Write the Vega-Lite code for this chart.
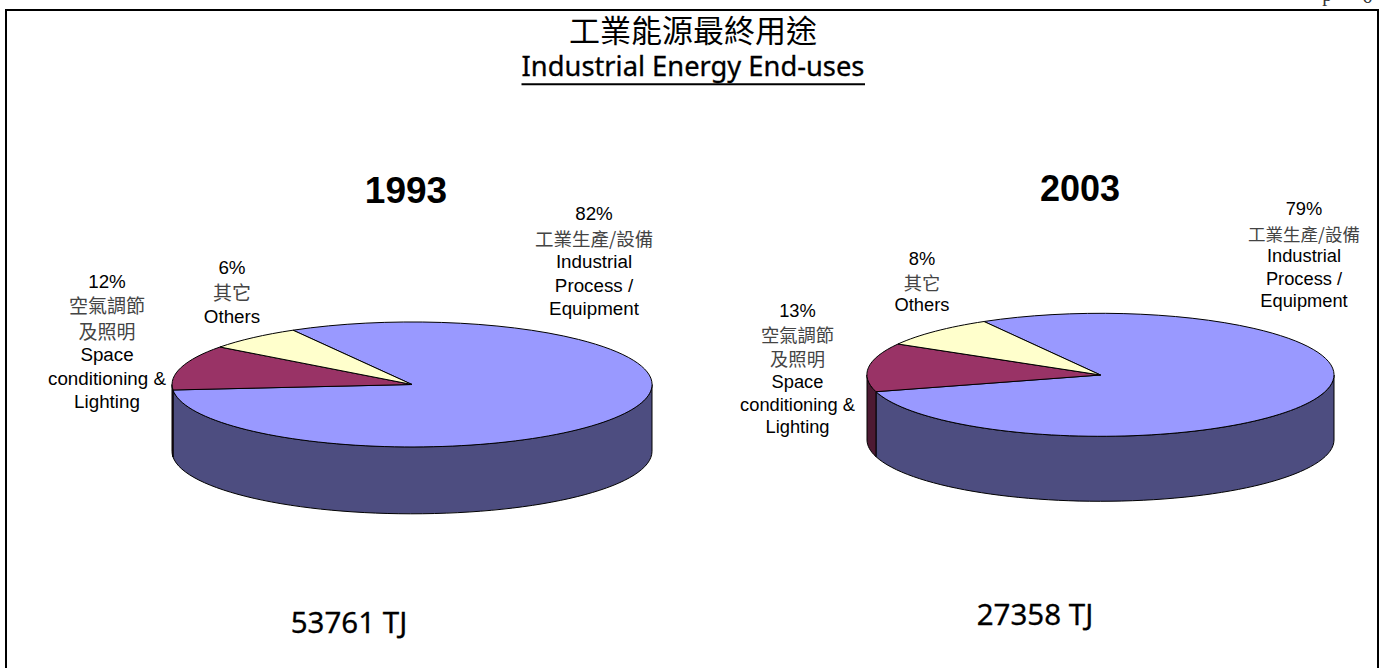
{"$schema":"https://vega.github.io/schema/vega-lite/v6.json","width":1385,"height":668,"padding":0,"autosize":{"type":"none"},"background":"white","config":{"view":{"stroke":null}},
"data":{"values":[
{"id":"1993-Industrial","year":"1993","category":"Industrial","share":82,"pct":"82%","en":"Industrial\nProcess /\nEquipment","zh":"工業生產/設備"},
{"id":"1993-Space","year":"1993","category":"Space","share":12,"pct":"12%","en":"Space\nconditioning &\nLighting","zh":"空氣調節\n及照明"},
{"id":"1993-Others","year":"1993","category":"Others","share":6,"pct":"6%","en":"Others","zh":"其它"},
{"id":"2003-Industrial","year":"2003","category":"Industrial","share":79,"pct":"79%","en":"Industrial\nProcess /\nEquipment","zh":"工業生產/設備"},
{"id":"2003-Space","year":"2003","category":"Space","share":13,"pct":"13%","en":"Space\nconditioning &\nLighting","zh":"空氣調節\n及照明"},
{"id":"2003-Others","year":"2003","category":"Others","share":8,"pct":"8%","en":"Others","zh":"其它"},
{"id":"1993-head","year":"1993","en":"1993"},
{"id":"2003-head","year":"2003","en":"2003"},
{"id":"1993-total","year":"1993","total":53761,"en":"53761 TJ"},
{"id":"2003-total","year":"2003","total":27358,"en":"27358 TJ"},
{"id":"title","year":"all","en":"Industrial Energy End-uses","zh":"工業能源最終用途"},
{"id":"page-a","year":"all","en":"p"},
{"id":"page-b","year":"all","en":"6"}
]},
"encoding":{
"x":{"field":"year","type":"nominal","axis":null,"scale":{"type":"point","domain":["1993","all","2003"],"range":[412,1100.5],"padding":0,"round":false}},
"y":{"field":"year","type":"nominal","axis":null,"scale":{"type":"point","domain":["1993","all","2003"],"range":[384.5,375],"padding":0,"round":false}}
},
"resolve":{"scale":{"shape":"independent","color":"independent"}},
"layer":[
{"transform":[{"filter":"datum.id==='1993-Industrial'||datum.id==='1993-Space'||datum.id==='2003-Industrial'||datum.id==='2003-Space'"}],
"mark":{"type":"point","filled":true,"size":4,"opacity":1,"stroke":"black","strokeWidth":1},
"encoding":{"shape":{"field":"id","type":"nominal","legend":null,"scale":{"domain":["1993-Industrial","1993-Space","2003-Industrial","2003-Space"],"range":[
"M-239,5.5A240,62.5 0 0 0 240,0V67A240,62.5 0 0 1 -239,72.5Z",
"M-240,0A240,62.5 0 0 0 -239,5.5V72.5A240,62.5 0 0 1 -240,67Z",
"M-224.5,16.7A233.5,61.5 0 0 0 233.5,0V65A233.5,61.5 0 0 1 -224.5,81.7Z",
"M-233.5,0A233.5,61.5 0 0 0 -224.5,16.7V81.7A233.5,61.5 0 0 1 -233.5,65Z"]}},
"color":{"field":"category","type":"nominal","legend":null,"scale":{"domain":["Industrial","Space"],"range":["#4D4D80","#4D1A33"]}}}},
{"transform":[{"filter":"isValid(datum.category)"}],
"mark":{"type":"point","filled":true,"size":4,"opacity":1,"stroke":"black","strokeWidth":1},
"encoding":{"shape":{"field":"id","type":"nominal","legend":null,"scale":{"domain":["1993-Industrial","1993-Space","1993-Others","2003-Industrial","2003-Space","2003-Others"],"range":[
"M0,0L-119,-54.3A240,62.5 0 1 1 -239,5.5Z",
"M0,0L-239,5.5A240,62.5 0 0 1 -192,-37.5Z",
"M0,0L-192,-37.5A240,62.5 0 0 1 -119,-54.3Z",
"M0,0L-116.5,-53.5A233.5,61.5 0 1 1 -224.5,16.7Z",
"M0,0L-224.5,16.7A233.5,61.5 0 0 1 -202.5,-31Z",
"M0,0L-202.5,-31A233.5,61.5 0 0 1 -116.5,-53.5Z"]}},
"color":{"field":"category","type":"nominal","legend":null,"scale":{"domain":["Industrial","Space","Others"],"range":["#9999FF","#993366","#FFFFCC"]}}}},
{"transform":[{"filter":"datum.id==='title'"}],"mark":{"type":"point","filled":false,"size":4,"opacity":1,"fill":null,"stroke":"black","strokeWidth":2,"shape":"M-750.25,320.25V-369.75H621.75V320.25"}},
{"transform":[{"filter":"datum.id==='title'"}],"mark":{"type":"point","filled":false,"size":4,"opacity":1,"fill":null,"stroke":"black","strokeWidth":2,"shape":"M-234.75,-295.45H108.75"}},
{"transform":[{"filter":"datum.id==='title'"}],"mark":{"type":"text","font":"Noto Sans CJK TC","fontSize":31,"align":"center","baseline":"alphabetic","dx":-63.25,"dy":-338,"color":"black"},"encoding":{"text":{"field":"zh"}}},
{"transform":[{"filter":"datum.id==='title'"}],"mark":{"type":"text","font":"Noto Sans","fontSize":27.3,"align":"center","baseline":"alphabetic","dx":-63.25,"dy":-303.75,"color":"black","stroke":"black","strokeWidth":0.3},"encoding":{"text":{"field":"en"}}},
{"transform":[{"filter":"datum.id==='page-a'"}],"mark":{"type":"text","font":"Liberation Serif","fontSize":20,"align":"center","baseline":"alphabetic","dx":571,"dy":-379,"color":"#333"},"encoding":{"text":{"field":"en"}}},
{"transform":[{"filter":"datum.id==='page-b'"}],"mark":{"type":"text","font":"Liberation Serif","fontSize":20,"align":"center","baseline":"alphabetic","dx":611,"dy":-377,"color":"#333"},"encoding":{"text":{"field":"en"}}},
{"transform":[{"filter":"datum.id==='1993-head'"}],"mark":{"type":"text","font":"Liberation Sans","fontWeight":"bold","fontSize":37,"align":"center","baseline":"alphabetic","dx":-6,"dy":-181.5,"color":"black"},"encoding":{"text":{"field":"en"}}},
{"transform":[{"filter":"datum.id==='2003-head'"}],"mark":{"type":"text","font":"Liberation Sans","fontWeight":"bold","fontSize":36,"align":"center","baseline":"alphabetic","dx":-20.5,"dy":-174,"color":"black"},"encoding":{"text":{"field":"en"}}},
{"transform":[{"filter":"datum.id==='1993-total'"}],"mark":{"type":"text","font":"Noto Sans","fontSize":29.5,"align":"center","baseline":"alphabetic","dx":-63,"dy":248.5,"color":"black","stroke":"black","strokeWidth":0.3},"encoding":{"text":{"field":"en"}}},
{"transform":[{"filter":"datum.id==='2003-total'"}],"mark":{"type":"text","font":"Noto Sans","fontSize":29.5,"align":"center","baseline":"alphabetic","dx":-65.5,"dy":250,"color":"black","stroke":"black","strokeWidth":0.3},"encoding":{"text":{"field":"en"}}},

{"transform":[{"filter":"datum.id==='1993-Industrial'"}],"mark":{"type":"text","font":"Liberation Sans","fontSize":18.8,"align":"center","baseline":"alphabetic","dx":182,"dy":-164.5,"color":"black"},"encoding":{"text":{"field":"pct"}}},
{"transform":[{"filter":"datum.id==='1993-Industrial'"}],"mark":{"type":"text","font":"Liberation Sans","fontSize":18.8,"align":"center","baseline":"alphabetic","lineBreak":"\n","lineHeight":23.5,"dx":182,"dy":-116.5,"color":"black"},"encoding":{"text":{"field":"en"}}},
{"transform":[{"filter":"datum.id==='1993-Industrial'"}],"mark":{"type":"text","font":"Noto Sans CJK TC","fontSize":18.5,"align":"center","baseline":"alphabetic","lineBreak":"\n","dx":182,"dy":-139,"color":"#444"},"encoding":{"text":{"field":"zh"}}},

{"transform":[{"filter":"datum.id==='1993-Space'"}],"mark":{"type":"text","font":"Liberation Sans","fontSize":18.8,"align":"center","baseline":"alphabetic","dx":-305,"dy":-96.5,"color":"black"},"encoding":{"text":{"field":"pct"}}},
{"transform":[{"filter":"datum.id==='1993-Space'"}],"mark":{"type":"text","font":"Liberation Sans","fontSize":18.8,"align":"center","baseline":"alphabetic","lineBreak":"\n","lineHeight":23.5,"dx":-305,"dy":-23.5,"color":"black"},"encoding":{"text":{"field":"en"}}},
{"transform":[{"filter":"datum.id==='1993-Space'"}],"mark":{"type":"text","font":"Noto Sans CJK TC","fontSize":19,"align":"center","baseline":"alphabetic","lineBreak":"\n","lineHeight":26,"dx":-305,"dy":-71.5,"color":"#444"},"encoding":{"text":{"field":"zh"}}},

{"transform":[{"filter":"datum.id==='1993-Others'"}],"mark":{"type":"text","font":"Liberation Sans","fontSize":18.8,"align":"center","baseline":"alphabetic","dx":-180,"dy":-110.5,"color":"black"},"encoding":{"text":{"field":"pct"}}},
{"transform":[{"filter":"datum.id==='1993-Others'"}],"mark":{"type":"text","font":"Liberation Sans","fontSize":18.8,"align":"center","baseline":"alphabetic","dx":-180,"dy":-61.8,"color":"black"},"encoding":{"text":{"field":"en"}}},
{"transform":[{"filter":"datum.id==='1993-Others'"}],"mark":{"type":"text","font":"Noto Sans CJK TC","fontSize":19,"align":"center","baseline":"alphabetic","dx":-180,"dy":-85,"color":"#444"},"encoding":{"text":{"field":"zh"}}},

{"transform":[{"filter":"datum.id==='2003-Industrial'"}],"mark":{"type":"text","font":"Liberation Sans","fontSize":18.3,"align":"center","baseline":"alphabetic","dx":203.5,"dy":-160,"color":"black"},"encoding":{"text":{"field":"pct"}}},
{"transform":[{"filter":"datum.id==='2003-Industrial'"}],"mark":{"type":"text","font":"Liberation Sans","fontSize":18.3,"align":"center","baseline":"alphabetic","lineBreak":"\n","lineHeight":22.5,"dx":203.5,"dy":-113,"color":"black"},"encoding":{"text":{"field":"en"}}},
{"transform":[{"filter":"datum.id==='2003-Industrial'"}],"mark":{"type":"text","font":"Noto Sans CJK TC","fontSize":17.5,"align":"center","baseline":"alphabetic","dx":203.5,"dy":-134.5,"color":"#444"},"encoding":{"text":{"field":"zh"}}},

{"transform":[{"filter":"datum.id==='2003-Space'"}],"mark":{"type":"text","font":"Liberation Sans","fontSize":18.3,"align":"center","baseline":"alphabetic","dx":-303,"dy":-58,"color":"black"},"encoding":{"text":{"field":"pct"}}},
{"transform":[{"filter":"datum.id==='2003-Space'"}],"mark":{"type":"text","font":"Liberation Sans","fontSize":18.3,"align":"center","baseline":"alphabetic","lineBreak":"\n","lineHeight":22.5,"dx":-303,"dy":13,"color":"black"},"encoding":{"text":{"field":"en"}}},
{"transform":[{"filter":"datum.id==='2003-Space'"}],"mark":{"type":"text","font":"Noto Sans CJK TC","fontSize":18.3,"align":"center","baseline":"alphabetic","lineBreak":"\n","lineHeight":23.5,"dx":-303,"dy":-33,"color":"#444"},"encoding":{"text":{"field":"zh"}}},

{"transform":[{"filter":"datum.id==='2003-Others'"}],"mark":{"type":"text","font":"Liberation Sans","fontSize":18.3,"align":"center","baseline":"alphabetic","dx":-178.5,"dy":-110,"color":"black"},"encoding":{"text":{"field":"pct"}}},
{"transform":[{"filter":"datum.id==='2003-Others'"}],"mark":{"type":"text","font":"Liberation Sans","fontSize":18.3,"align":"center","baseline":"alphabetic","dx":-178.5,"dy":-64,"color":"black"},"encoding":{"text":{"field":"en"}}},
{"transform":[{"filter":"datum.id==='2003-Others'"}],"mark":{"type":"text","font":"Noto Sans CJK TC","fontSize":18.3,"align":"center","baseline":"alphabetic","dx":-178.5,"dy":-85,"color":"#444"},"encoding":{"text":{"field":"zh"}}}
]}
